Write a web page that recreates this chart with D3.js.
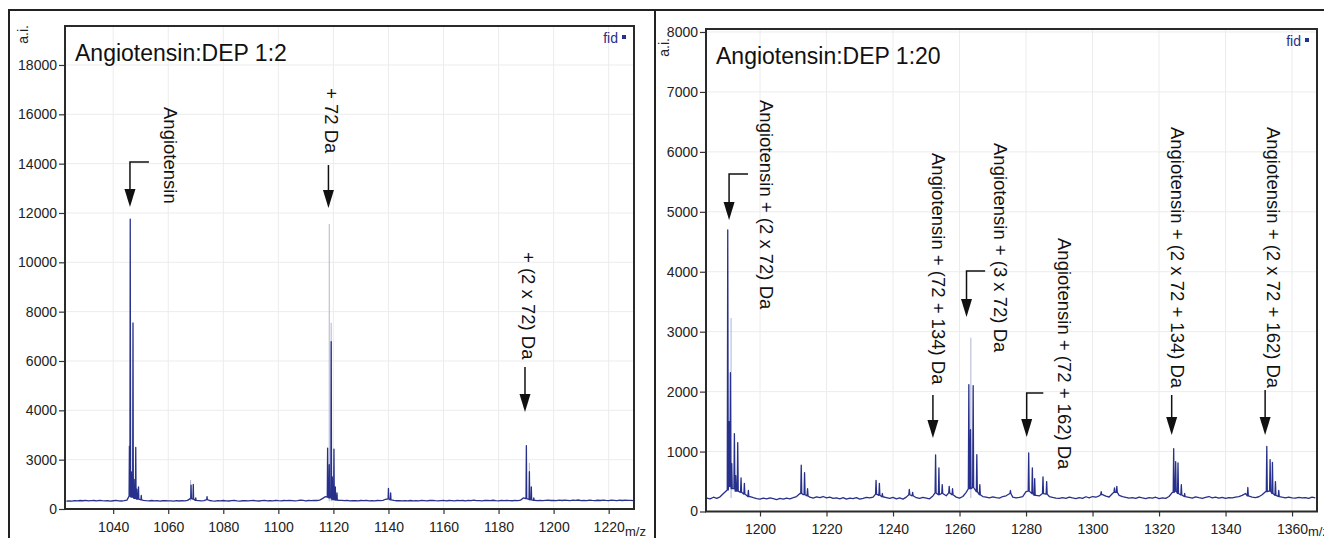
<!DOCTYPE html>
<html>
<head>
<meta charset="utf-8">
<script src="https://cdn.jsdelivr.net/npm/d3@7"></script>
<style>
  body { margin: 0; background: #fff; }
  text { font-family: "Liberation Sans", Arial, Helvetica, sans-serif; }
</style>
</head>
<body>
<script>
// ---- left panel data (Angiotensin:DEP 1:2) ----
const leftTitle = "Angiotensin:DEP 1:2"
const leftXTicks = [1040, 1060, 1080, 1100, 1120, 1140, 1160, 1180, 1200, 1220]
const leftYTicks = [0, 2000, 4000, 6000, 8000, 10000, 12000, 14000, 16000, 18000]
const leftYTickLabels = ["0", "3000", "4000", "6000", "8000", "10000", "12000", "14000", "16000", "18000"]
// baseline noise, one value per m/z unit starting at 1023
const leftBaseMz = d3.range(1023, 1230, 1)
const leftBase = [
  315, 330, 322, 340, 328, 345, 335, 350, 326, 338,
  344, 330, 352, 336, 328, 342, 320, 335, 347, 331,
  325, 340, 360, 520, 480, 430, 400, 370, 352, 338,
  330, 345, 326, 338, 322, 335, 341, 327, 333, 318,
  336, 324, 340, 330, 348, 420, 400, 350, 338, 326,
  342, 380, 345, 330, 322, 336, 328, 344, 331, 325,
  339, 347, 330, 322, 335, 341, 326, 338, 344, 330,
  325, 337, 348, 333, 340, 326, 352, 338, 330, 345,
  336, 350, 342, 328, 340, 356, 347, 333, 345, 338,
  352, 344, 360, 420, 500, 480, 450, 380, 365, 350,
  346, 338, 352, 330, 341, 335, 328, 344, 337, 349,
  331, 340, 327, 345, 338, 350, 395, 410, 370, 348,
  335, 342, 328, 337, 331, 345, 326, 340, 333, 347,
  338, 330, 344, 352, 336, 329, 341, 348, 333, 345,
  340, 326, 352, 338, 345, 331, 349, 340, 356, 336,
  343, 332, 350, 345, 338, 355, 341, 333, 348, 337,
  352, 340, 334, 346, 338, 360, 450, 420, 390, 370,
  355, 342, 350, 337, 348, 360, 344, 352, 339, 357,
  345, 362, 350, 338, 356, 347, 365, 342, 353, 340,
  358, 346, 337, 355, 344, 362, 350, 341, 357, 348,
  339, 356, 345, 360, 347, 352, 343
]
// peaks: [m/z, intensity]
const leftPeaks = [
  [1045.9, 2550], [1046.2, 11750], [1046.6, 1500], [1047.2, 7540], [1047.6, 1200],
  [1048.2, 2500], [1048.6, 800], [1049.2, 900], [1050.2, 550],
  [1068.3, 970], [1069.1, 1000], [1070.0, 450], [1074.1, 500],
  [1117.9, 2470], [1118.5, 1800], [1119.2, 6780], [1119.6, 1300], [1120.2, 2430],
  [1120.7, 900], [1121.3, 650],
  [1140.0, 840], [1140.8, 650],
  [1190.1, 2565], [1191.2, 1510], [1191.9, 900], [1192.8, 450]
]
// faint profile tips drawn in light colour
const leftLight = [[1118.5, 11550], [1119.2, 7550], [1068.1, 1180], [1191.2, 1860]]
const leftLabels = ["Angiotensin", "+ 72 Da", "+ (2 x 72) Da"]
const leftArrowMz = [1046.1, 1118.2, 1189.6]
const leftArrowTip = [12240, 12200, 3932]
const leftArrowStart = [14065, 13944, 5756]
const leftElbowMz = [1053.0, null, null]
const leftLabelMz = [1058.5, 1117.0, 1188.4]
const leftLabelTop = [16295, 17065, 10418]

// ---- right panel data (Angiotensin:DEP 1:20) ----
const rightTitle = "Angiotensin:DEP 1:20"
const rightXTicks = [1200, 1220, 1240, 1260, 1280, 1300, 1320, 1340, 1360]
const rightYTicks = [0, 1000, 2000, 3000, 4000, 5000, 6000, 7000, 8000]
const rightYTickLabels = ["0", "1000", "2000", "3000", "4000", "5000", "6000", "7000", "8000"]
const rightBaseMz = d3.range(1184, 1368, 1)
const rightBase = [
  225, 212, 238, 220, 245, 300, 360, 420, 380, 340,
  320, 290, 265, 248, 230, 215, 205, 222, 210, 228,
  215, 200, 218, 206, 224, 212, 230, 250, 300, 280,
  260, 238, 225, 245, 232, 250, 228, 240, 218, 226,
  212, 230, 205, 222, 214, 232, 208, 220, 235, 226,
  240, 290, 270, 246, 232, 218, 236, 212, 228, 206,
  240, 280, 262, 230, 218, 236, 224, 212, 260, 310,
  280, 300, 262, 310, 280, 240, 222, 250, 320, 380,
  400, 330, 280, 250, 238, 226, 244, 230, 222, 250,
  262, 300, 240, 228, 236, 250, 330, 340, 300, 270,
  260, 300, 290, 250, 236, 224, 218, 232, 220, 240,
  226, 214, 232, 220, 246, 228, 250, 238, 262, 280,
  256, 242, 300, 320, 270, 248, 236, 224, 232, 218,
  240, 226, 214, 230, 222, 238, 216, 228, 220, 250,
  320, 340, 300, 276, 250, 236, 224, 244, 230, 218,
  234, 250, 228, 240, 222, 236, 218, 230, 226, 240,
  250, 270, 300, 260, 240, 232, 246, 280, 330, 340,
  300, 270, 250, 238, 226, 240, 228, 222, 236, 226,
  232, 218, 240, 228
]
const rightPeaks = [
  [1190.3, 4700], [1190.7, 1500], [1191.1, 2316], [1191.5, 800], [1192.3, 1300],
  [1192.7, 600], [1193.3, 1150], [1194.3, 560], [1195.3, 470], [1196.5, 350],
  [1212.4, 772], [1213.4, 650], [1214.3, 380],
  [1234.9, 520], [1235.9, 470], [1236.8, 300],
  [1244.9, 370], [1245.9, 320],
  [1252.8, 945], [1253.8, 728], [1254.8, 450], [1256.9, 420], [1257.9, 380],
  [1262.8, 2116], [1263.3, 1366], [1264.1, 2100], [1265.2, 950], [1266.1, 450],
  [1275.3, 350],
  [1280.8, 978], [1281.9, 728], [1282.6, 550], [1285.1, 578], [1286.2, 500],
  [1302.6, 330], [1306.6, 395], [1307.3, 420],
  [1324.4, 1050], [1325.0, 830], [1325.7, 810], [1326.7, 450], [1327.7, 300],
  [1346.7, 400], [1352.4, 1088], [1353.4, 867], [1354.1, 820], [1355.0, 500], [1356.0, 350]
]
const rightLight = [[1191.3, 3228], [1263.4, 2900]]
const rightLabels = [
  "Angiotensin + (2 x 72) Da", "Angiotensin + (72 + 134) Da", "Angiotensin + (3 x 72) Da",
  "Angiotensin + (72 + 162) Da", "Angiotensin + (2 x 72 + 134) Da", "Angiotensin + (2 x 72 + 162) Da"
]
const rightArrowMz = [1190.7, 1252.0, 1262.1, 1280.2, 1323.8, 1351.9]
const rightArrowTip = [4863, 1226, 3245, 1243, 1276, 1276]
const rightArrowStart = [5631, 1944, 4012, 1977, 1944, 2027]
const rightElbowMz = [1196.4, null, 1267.7, 1285.2, null, null]
const rightLabelMz = [1200.0, 1251.7, 1270.4, 1289.6, 1323.6, 1352.5]
const rightLabelTop = [6865, 5981, 6148, 4563, 6416, 6416]

const navy = "#27308a"
const svg = d3.select("body").append("svg")
    .attr("width", 1324)
    .attr("height", 538)

// outer figure frame
svg.append("path")
    .attr("d", "M9,538 V10 H1324 M655,10 V538")
    .attr("fill", "none")
    .attr("stroke", "#222")
    .attr("stroke-width", 2)

// turn baseline + peaks into one profile line
function profile(baseMz, base, peaks, w) {
    const pts = []
    baseMz.forEach(function(mz, i) {
        if (!peaks.some(function(p) { return Math.abs(p[0] - mz) < w * 2 })) pts.push([mz, base[i]])
    })
    peaks.forEach(function(p) {
        let k = Math.round(p[0] - baseMz[0])
        k = Math.max(0, Math.min(base.length - 1, k))
        pts.push([p[0] - w, base[k]], [p[0], p[1]], [p[0] + w, base[k]])
    })
    pts.sort(function(a, b) { return a[0] - b[0] })
    return pts
}

function drawPanel(p) {
    const x = d3.scaleLinear().domain(p.xDomain).range([p.left, p.right])
    const y = d3.scaleLinear().domain(p.yDomain).range([p.bottom, p.top])
    const g = svg.append("g")

    // grid
    g.selectAll(".gx").data(p.xTicks).join("line")
        .attr("x1", d => x(d)).attr("x2", d => x(d))
        .attr("y1", p.top).attr("y2", p.bottom)
        .attr("stroke", "#ececec")
    g.selectAll(".gy").data(p.yTicks).join("line")
        .attr("x1", p.left).attr("x2", p.right)
        .attr("y1", d => y(d)).attr("y2", d => y(d))
        .attr("stroke", "#ececec")

    g.append("clipPath").attr("id", p.id)
      .append("rect")
        .attr("x", p.left).attr("y", p.top)
        .attr("width", p.right - p.left).attr("height", p.bottom - p.top)
    const plot = g.append("g").attr("clip-path", "url(#" + p.id + ")")

    // light profile tips
    plot.selectAll(".light").data(p.light).join("line")
        .attr("x1", d => x(d[0])).attr("x2", d => x(d[0]))
        .attr("y1", y(p.base[0])).attr("y2", d => y(d[1]))
        .attr("stroke", "#b7bad6")
        .attr("stroke-width", 1.1)

    // spectrum
    plot.append("path")
        .datum(profile(p.baseMz, p.base, p.peaks, p.w))
        .attr("fill", "none")
        .attr("stroke", navy)
        .attr("stroke-width", 1.3)
        .attr("stroke-linejoin", "round")
        .attr("d", d3.line().x(d => x(d[0])).y(d => y(d[1])))

    // axes
    g.append("g")
        .attr("transform", "translate(" + p.left + ",0)")
        .call(d3.axisLeft(y).tickValues(p.yTicks)
            .tickFormat((d, i) => p.yTickLabels[i])
            .tickSize(6).tickPadding(2))
    g.append("g")
        .attr("transform", "translate(0," + p.bottom + ")")
        .call(d3.axisBottom(x).tickValues(p.xTicks)
            .tickFormat(d3.format("d"))
            .tickSize(5).tickPadding(8))
    g.selectAll(".domain").remove()
    g.selectAll(".tick line").attr("stroke", "#333").attr("stroke-width", 1.2)
    g.selectAll(".tick text")
        .attr("font-family", "Liberation Sans, Arial, sans-serif")
        .attr("font-size", 14)
        .attr("fill", "#222")

    // plot frame
    g.append("rect")
        .attr("x", p.left).attr("y", p.top)
        .attr("width", p.right - p.left).attr("height", p.bottom - p.top)
        .attr("fill", "none")
        .attr("stroke", "#2a2a2a")
        .attr("stroke-width", 2)

    // titles and small labels
    g.append("text")
        .attr("x", p.left + 10).attr("y", p.top + 35)
        .attr("font-size", 23)
        .attr("fill", "#111")
        .text(p.title)
    g.append("text")
        .attr("x", p.right - 16).attr("y", p.top + 17)
        .attr("text-anchor", "end")
        .attr("font-size", 14)
        .attr("fill", navy)
        .text("fid")
    g.append("rect")
        .attr("x", p.right - 12).attr("y", p.top + 9)
        .attr("width", 4).attr("height", 4)
        .attr("fill", navy)
    g.append("text")
        .attr("transform", "translate(" + (p.left - 37) + "," + p.aiTop + ") rotate(-90)")
        .attr("text-anchor", "end")
        .attr("font-size", 14)
        .attr("fill", "#222")
        .text("a.i.")
    g.append("text")
        .attr("x", p.right - 9).attr("y", 536)
        .attr("font-size", 13)
        .attr("fill", "#222")
        .text("m/z")

    // annotations: arrows and rotated labels
    p.labels.forEach(function(lab, i) {
        const ax = x(p.arrowMz[i])
        const tip = y(p.arrowTip[i])
        const st = y(p.arrowStart[i])
        let d = "M" + ax + "," + (tip - 14) + " V" + st
        if (p.elbowMz[i] != null) d += " H" + x(p.elbowMz[i])
        g.append("path")
            .attr("d", d)
            .attr("fill", "none")
            .attr("stroke", "#111")
            .attr("stroke-width", 1.5)
        g.append("path")
            .attr("d", "M" + ax + "," + tip + " L" + (ax - 5.5) + "," + (tip - 18) + " L" + (ax + 5.5) + "," + (tip - 18) + " Z")
            .attr("fill", "#111")
        g.append("text")
            .attr("transform", "translate(" + x(p.labelMz[i]) + "," + y(p.labelTop[i]) + ") rotate(90)")
            .attr("font-size", 18.5)
            .attr("fill", "#111")
            .text(lab)
    })
}

drawPanel({
    id: "clipL", title: leftTitle, aiTop: 25,
    left: 65, right: 634, top: 26, bottom: 509,
    xDomain: [1022.5, 1229.2], yDomain: [0, 19580],
    xTicks: leftXTicks, yTicks: leftYTicks, yTickLabels: leftYTickLabels,
    baseMz: leftBaseMz, base: leftBase, peaks: leftPeaks, light: leftLight, w: 0.12,
    labels: leftLabels, arrowMz: leftArrowMz, arrowTip: leftArrowTip, arrowStart: leftArrowStart,
    elbowMz: leftElbowMz, labelMz: leftLabelMz, labelTop: leftLabelTop
})

drawPanel({
    id: "clipR", title: rightTitle, aiTop: 38,
    left: 706, right: 1317, top: 29, bottom: 511.5,
    xDomain: [1183.76, 1367.5], yDomain: [0, 8050],
    xTicks: rightXTicks, yTicks: rightYTicks, yTickLabels: rightYTickLabels,
    baseMz: rightBaseMz, base: rightBase, peaks: rightPeaks, light: rightLight, w: 0.15,
    labels: rightLabels, arrowMz: rightArrowMz, arrowTip: rightArrowTip, arrowStart: rightArrowStart,
    elbowMz: rightElbowMz, labelMz: rightLabelMz, labelTop: rightLabelTop
})
</script>
</body>
</html>
